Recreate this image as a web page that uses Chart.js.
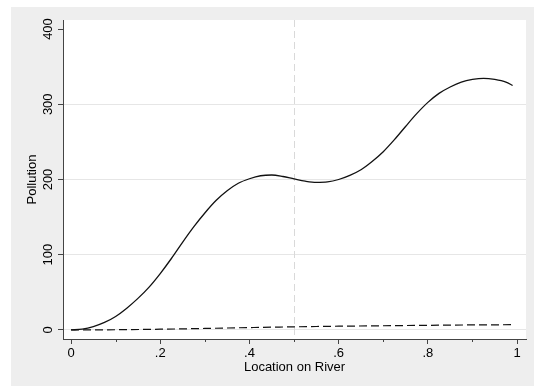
<!DOCTYPE html>
<html>
<head>
<meta charset="utf-8">
<script src="https://cdn.jsdelivr.net/npm/chart.js@4/dist/chart.umd.min.js"></script>
<style>
  html, body { margin: 0; padding: 0; background: #ffffff; }
  #wrap { position: relative; width: 534px; height: 387px; }
</style>
</head>
<body>
<div id="wrap"><canvas id="pollutionChart" width="534" height="387"></canvas></div>
<script>
// Location on river (x) and pollution for the solid curve
const locations = [0, 0.025, 0.05, 0.075, 0.1, 0.125, 0.15, 0.175, 0.2, 0.225,
                   0.25, 0.275, 0.3, 0.325, 0.35, 0.375, 0.4, 0.425, 0.45, 0.475,
                   0.5, 0.525, 0.55, 0.575, 0.6, 0.625, 0.65, 0.675, 0.7, 0.725,
                   0.75, 0.775, 0.8, 0.825, 0.85, 0.875, 0.9, 0.925, 0.95, 0.975, 0.99];
const pollution = [0, 1.2, 4.5, 10, 18, 29, 42, 57, 75, 95,
                   116.5, 137, 155.5, 172, 185, 195, 201, 205, 206, 204,
                   200.8, 197.8, 196.2, 196.8, 200, 205.5, 213, 224, 237, 253,
                   270.5, 287.5, 302.5, 314.5, 323, 329.5, 333, 334.5, 333, 329.5, 325];

// Dashed curve (lower series)
const baseLocations = [0, 0.1, 0.2, 0.3, 0.4, 0.5, 0.6, 0.7, 0.8, 0.9, 0.99];
const baseline = [0, 0.3, 1.0, 2.0, 3.2, 4.2, 5.0, 5.6, 6.2, 6.7, 7.0];

// Axis ticks
const xTicks = [0, 0.2, 0.4, 0.6, 0.8, 1];
const xMinorTicks = [0.1, 0.3, 0.5, 0.7, 0.9];
const yTicks = [0, 100, 200, 300, 400];
const xLine = 0.5;

const FONT = "'Liberation Sans', Arial, Helvetica, sans-serif";

function toPoints(xs, ys) {
    return xs.map((x, i) => ({ x: x, y: ys[i] }));
}

// Stata-like backdrop, reference line and minor ticks
const stataPlugin = {
    id: 'stataLook',
    beforeDraw(chart) {
        const { ctx, chartArea } = chart;
        ctx.save();
        ctx.fillStyle = '#eeeeee';
        ctx.fillRect(11, 7, 523, 379);
        ctx.fillStyle = '#ffffff';
        ctx.fillRect(chartArea.left, chartArea.top,
                     chartArea.right - chartArea.left, chartArea.bottom - chartArea.top);
        ctx.restore();
    },
    beforeDatasetsDraw(chart) {
        const { ctx, chartArea, scales } = chart;
        const px = Math.round(scales.x.getPixelForValue(xLine)) + 0.5;
        ctx.save();
        ctx.strokeStyle = '#d9d9d9';
        ctx.lineWidth = 1;
        ctx.setLineDash([7, 4]);
        ctx.beginPath();
        ctx.moveTo(px, chartArea.top);
        ctx.lineTo(px, chartArea.bottom);
        ctx.stroke();
        ctx.restore();
    },
    afterDraw(chart) {
        const { ctx, chartArea, scales } = chart;
        ctx.save();
        ctx.strokeStyle = '#444444';
        ctx.lineWidth = 1;
        xMinorTicks.forEach(v => {
            const px = Math.round(scales.x.getPixelForValue(v)) + 0.5;
            ctx.beginPath();
            ctx.moveTo(px, chartArea.bottom);
            ctx.lineTo(px, chartArea.bottom + 3);
            ctx.stroke();
        });
        ctx.restore();
    }
};

const ctx = document.getElementById('pollutionChart').getContext('2d');
new Chart(ctx, {
    type: 'line',
    data: {
        datasets: [{
            label: 'Pollution',
            data: toPoints(locations, pollution),
            borderColor: '#111111',
            borderWidth: 1.3,
            pointRadius: 0,
            fill: false,
            cubicInterpolationMode: 'monotone'
        }, {
            label: 'Baseline',
            data: toPoints(baseLocations, baseline),
            borderColor: '#111111',
            borderWidth: 1.2,
            borderDash: [8, 4],
            pointRadius: 0,
            fill: false,
            cubicInterpolationMode: 'monotone'
        }]
    },
    options: {
        responsive: false,
        animation: false,
        events: [],
        layout: { padding: { top: 20, right: 8, left: 0, bottom: 0 } },
        plugins: {
            legend: { display: false },
            tooltip: { enabled: false }
        },
        scales: {
            x: {
                type: 'linear',
                min: -0.018,
                max: 1.02,
                afterBuildTicks: scale => {
                    scale.ticks = xTicks.map(v => ({ value: v }));
                },
                afterFit: scale => { scale.height = 48; },
                ticks: {
                    color: '#000000',
                    font: { family: FONT, size: 13 },
                    padding: 2,
                    maxRotation: 0,
                    callback: v => v === 0 ? '0' : v === 1 ? '1' : String(v).replace(/^0/, '')
                },
                grid: {
                    drawOnChartArea: false,
                    tickLength: 5,
                    tickColor: '#444444'
                },
                border: { color: '#444444', width: 1 },
                title: {
                    display: true,
                    text: 'Location on River',
                    color: '#000000',
                    font: { family: FONT, size: 13 },
                    padding: { top: 0, bottom: 12 }
                }
            },
            y: {
                min: -12,
                max: 412,
                afterBuildTicks: scale => {
                    scale.ticks = yTicks.map(v => ({ value: v }));
                },
                afterFit: scale => { scale.width = 63; },
                ticks: {
                    color: '#000000',
                    font: { family: FONT, size: 13 },
                    minRotation: 90,
                    maxRotation: 90,
                    crossAlign: 'center',
                    padding: -1
                },
                grid: {
                    color: c => (c.tick && c.tick.value === 400) ? 'rgba(0,0,0,0)' : '#e6e6e6',
                    tickColor: '#444444',
                    tickLength: 5
                },
                border: { color: '#444444', width: 1 },
                title: {
                    display: true,
                    text: 'Pollution',
                    color: '#000000',
                    font: { family: FONT, size: 13 },
                    padding: { top: 25, bottom: 0 }
                }
            }
        }
    },
    plugins: [stataPlugin]
});
</script>
</body>
</html>
